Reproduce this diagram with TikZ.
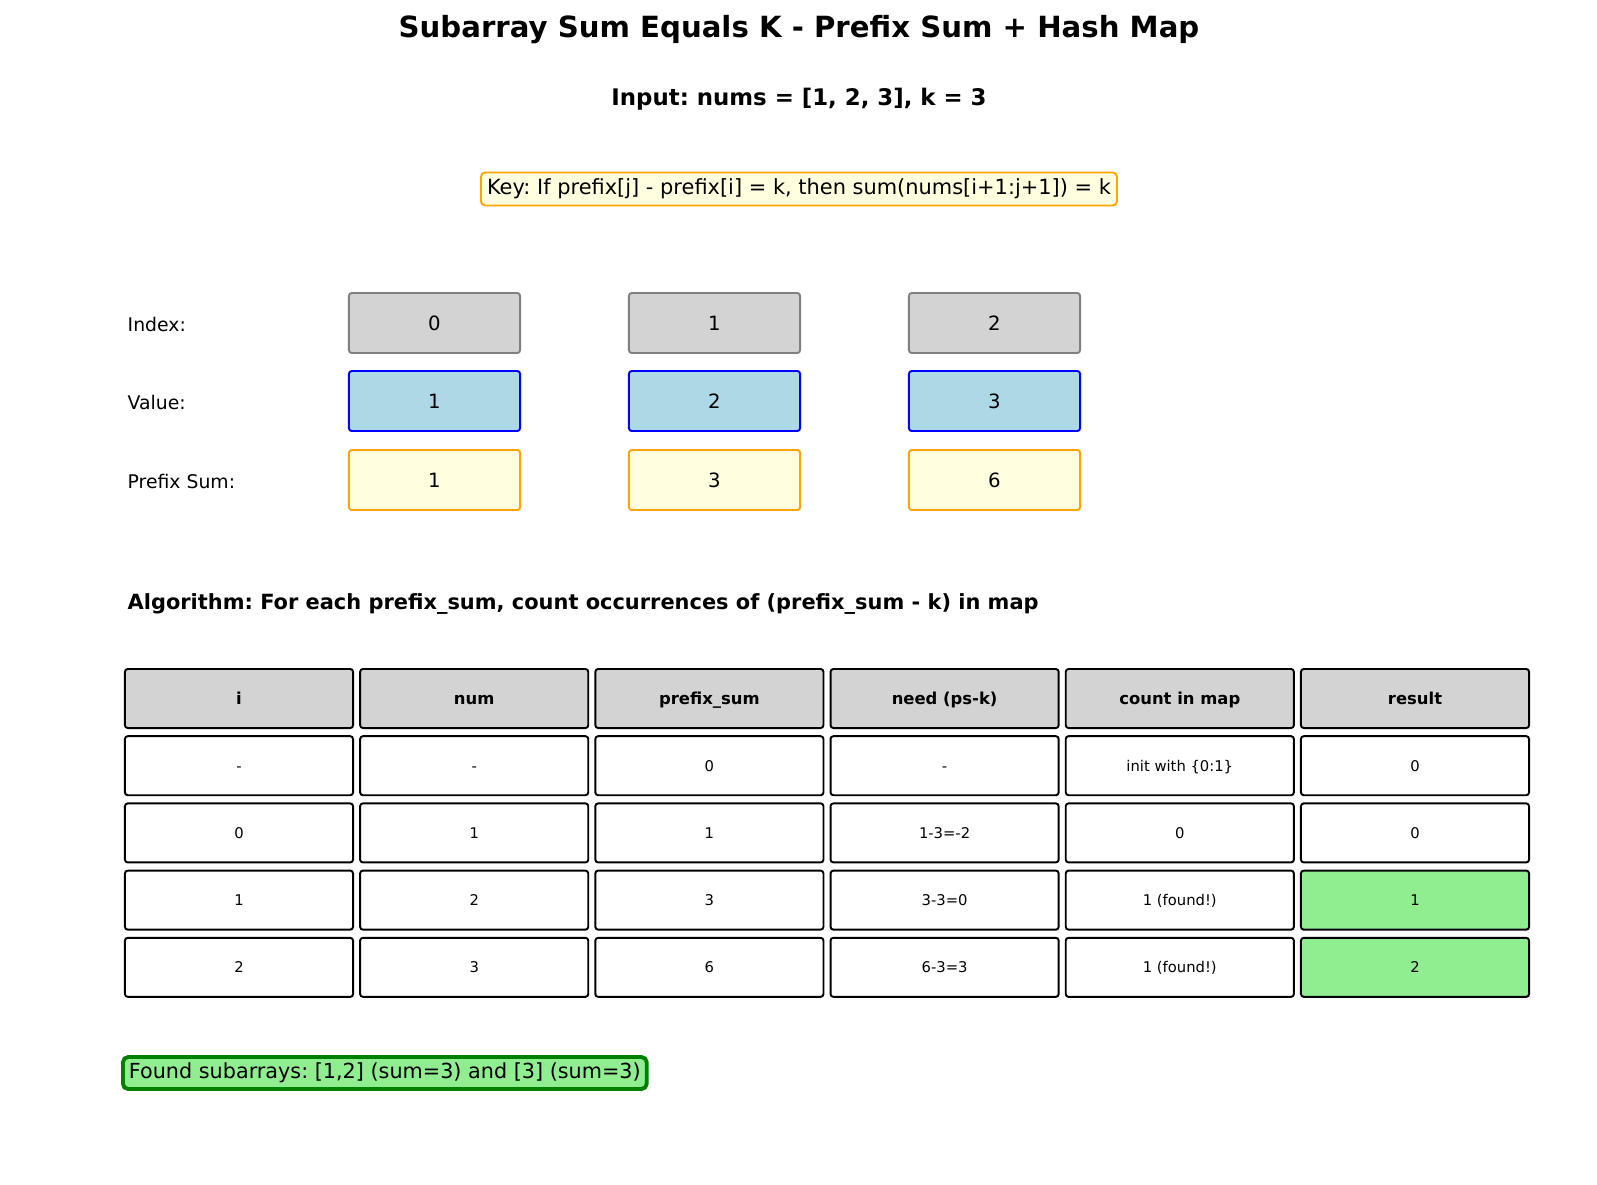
\documentclass[tikz,border=0pt]{standalone}
\usepackage{fontspec}
\setmainfont{DejaVu Sans}
\frenchspacing
\begin{document}
\begin{tikzpicture}[x=0.01cm, y=-0.01cm,
    bigtitle/.style={font=\fontsize{8.3pt}{10pt}\selectfont\bfseries},
    subtitle/.style={font=\fontsize{6.5pt}{8pt}\selectfont\bfseries},
    plaintext/.style={font=\fontsize{5.95pt}{7pt}\selectfont},
    labeltext/.style={font=\fontsize{5.35pt}{7pt}\selectfont, anchor=west, inner sep=0pt},
    headtext/.style={font=\fontsize{4.67pt}{6pt}\selectfont\bfseries, text height=4.1pt, text depth=0.7pt},
    celltext/.style={font=\fontsize{4.2pt}{5pt}\selectfont, text height=3.75pt, text depth=0.7pt},
    arraybox/.style={font=\fontsize{5.6pt}{7pt}\selectfont, minimum width=1.71cm, minimum height=0.6cm,
        inner sep=0pt, rounded corners=0.8pt, line width=0.55pt},
    tablecell/.style={celltext, draw=black, minimum width=2.28cm, minimum height=0.59cm,
        inner sep=0pt, rounded corners=0.8pt, line width=0.55pt}]
    \useasboundingbox (0,0) rectangle (1597,1184);

    \definecolor{idxFill}{HTML}{D3D3D3}
    \definecolor{idxBorder}{HTML}{808080}
    \definecolor{valFill}{HTML}{ADD8E6}
    \definecolor{valBorder}{HTML}{0000FF}
    \definecolor{psFill}{HTML}{FFFFE0}
    \definecolor{psBorder}{HTML}{FFA500}
    \definecolor{foundFill}{HTML}{90EE90}
    \definecolor{foundBorder}{HTML}{008000}

    % Titles
    \node[bigtitle] (title) at (799,30) {Subarray Sum Equals K - Prefix Sum + Hash Map};
    \node[subtitle] (input) at (799,99) {Input: nums = [1, 2, 3], k = 3};

    % Key idea
    \node[plaintext, fill=psFill, draw=psBorder, line width=0.55pt, rounded corners=1.2pt,
        inner xsep=0.06cm, inner ysep=0pt, minimum height=0.33cm] (key) at (799,189)
        {Key: If prefix[j] - prefix[i] = k, then sum(nums[i+1:j+1]) = k};

    % Row labels
    \node[labeltext] (lblIdx) at (127,324) {Index:};
    \node[labeltext] (lblVal) at (127,402) {Value:};
    \node[labeltext] (lblPs) at (127,481) {Prefix Sum:};

    % Array boxes
    \foreach \idx/\val/\ps [count=\c from 0] in {0/1/1, 1/2/3, 2/3/6} {
        \node[arraybox, fill=idxFill, draw=idxBorder] (idx-\c) at ({434.5+280*\c},323) {\idx};
        \node[arraybox, fill=valFill, draw=valBorder] (val-\c) at ({434.5+280*\c},401) {\val};
        \node[arraybox, fill=psFill, draw=psBorder] (ps-\c) at ({434.5+280*\c},480) {\ps};
    }

    % Algorithm
    \node[plaintext, font=\fontsize{5.95pt}{7pt}\selectfont\bfseries, anchor=west, inner sep=0pt] (algo)
        at (127,604) {Algorithm: For each prefix\_sum, count occurrences of (prefix\_sum - k) in map};

    % Table header
    \foreach \h [count=\c from 0] in {i, num, prefix\_sum, need (ps-k), count in map, result}
        \node[tablecell, headtext, fill=idxFill] (head-\c) at ({239+235.2*\c},698.5) {\h};

    % Table rows
    \foreach \a/\b/\cc/\d/\e/\f/\rcol [count=\r] in {
        -/-/0/-/init with \{0:1\}/0/white,
        0/1/1/1-3=-2/0/0/white,
        1/2/3/3-3=0/1 (found!)/1/foundFill,
        2/3/6/6-3=3/1 (found!)/2/foundFill} {
        \node[tablecell, fill=white] (cell-\r-0) at (239,{698.5+67.2*\r}) {\a};
        \node[tablecell, fill=white] (cell-\r-1) at (474.2,{698.5+67.2*\r}) {\b};
        \node[tablecell, fill=white] (cell-\r-2) at (709.4,{698.5+67.2*\r}) {\cc};
        \node[tablecell, fill=white] (cell-\r-3) at (944.6,{698.5+67.2*\r}) {\d};
        \node[tablecell, fill=white] (cell-\r-4) at (1179.8,{698.5+67.2*\r}) {\e};
        \node[tablecell, fill=\rcol] (cell-\r-5) at (1415,{698.5+67.2*\r}) {\f};
    }

    % Result
    \node[plaintext, font=\fontsize{5.9pt}{7pt}\selectfont, fill=foundFill, draw=foundBorder,
        line width=1.1pt, rounded corners=1.5pt, inner xsep=0.06cm, inner ysep=0pt,
        minimum height=0.32cm, anchor=west] (found) at (121,1073)
        {Found subarrays: [1,2] (sum=3) and [3] (sum=3)};

\end{tikzpicture}
\end{document}
